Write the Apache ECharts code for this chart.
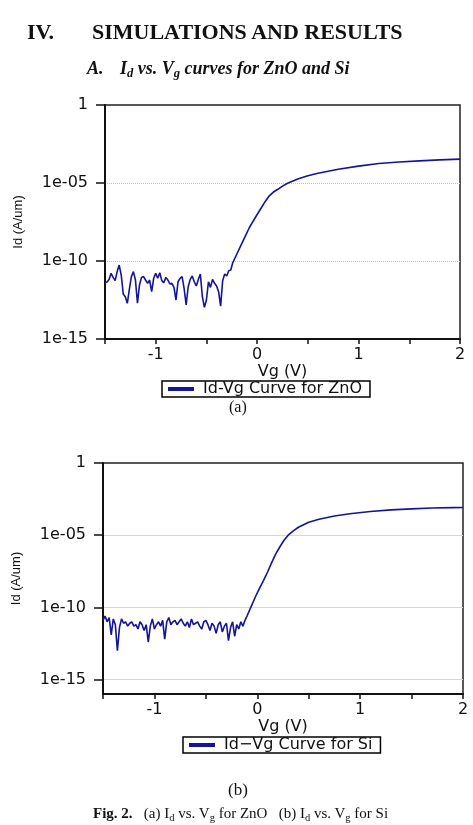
<!DOCTYPE html>
<html>
<head>
<meta charset="utf-8">
<script src="https://cdn.jsdelivr.net/npm/echarts@6/dist/echarts.min.js"></script>
<style>
  html, body { margin: 0; padding: 0; background: #fff; }
  .page { position: relative; width: 473px; height: 825px; overflow: hidden; }
  #chart { position: absolute; left: 0; top: 0; width: 473px; height: 825px; }
  .txt { position: absolute; font-family: "Liberation Serif", "Times New Roman", serif; color: #111; line-height: 1; white-space: nowrap; z-index: 2; }
  .txt sub { font-size: 0.7em; vertical-align: -0.25em; line-height: 0; }
</style>
</head>
<body>
<div class="page">
  <div id="chart"></div>
  <div class="txt" style="left:27px; top:21px; font-size:22px; font-weight:bold;">IV.</div>
  <div class="txt" style="left:92px; top:21px; font-size:22px; font-weight:bold;">SIMULATIONS AND RESULTS</div>
  <div class="txt" style="left:87px; top:59px; font-size:18px; font-weight:bold; font-style:italic;">A.</div>
  <div class="txt" style="left:120px; top:59px; font-size:18px; font-weight:bold; font-style:italic;">I<sub>d</sub> vs. V<sub>g</sub> curves for ZnO and Si</div>
  <div class="txt" style="left:229px; top:399px; font-size:16px;">(a)</div>
  <div class="txt" style="left:228px; top:781px; font-size:17px;">(b)</div>
  <div class="txt" style="left:93px; top:806px; font-size:15px;"><b>Fig. 2.</b>&nbsp;&nbsp; (a) I<sub>d</sub> vs. V<sub>g</sub> for ZnO &nbsp; (b) I<sub>d</sub> vs. V<sub>g</sub> for Si</div>
</div>

<script>
// gate voltage (V) and log10 of drain current (A/um)
const znoVg = [
  -1.5, -1.48, -1.46, -1.44, -1.42, -1.4, -1.38, -1.36, -1.34, -1.32, -1.3, -1.28, -1.26, -1.24, -1.22, -1.2,
  -1.18, -1.16, -1.14, -1.12, -1.1, -1.08, -1.06, -1.04, -1.02, -1, -0.98, -0.96, -0.94, -0.92, -0.9, -0.88,
  -0.86, -0.84, -0.82, -0.8, -0.78, -0.76, -0.74, -0.72, -0.7, -0.68, -0.66, -0.64, -0.62, -0.6, -0.58, -0.56,
  -0.54, -0.52, -0.5, -0.48, -0.46, -0.44, -0.42, -0.4, -0.38, -0.36, -0.34, -0.32, -0.3, -0.28, -0.26,
  -0.24, -0.2, -0.16, -0.12, -0.08, -0.04, 0, 0.04, 0.08, 0.12, 0.16, 0.2, 0.25, 0.3, 0.4, 0.5, 0.6, 0.8,
  1, 1.2, 1.4, 1.6, 1.8, 2
]
const znoLogId = [
  -11.39, -11.35, -11.18, -10.79, -11.05, -11.26, -10.68, -10.26, -10.9, -12.12, -12.29, -12.71, -11.82, -11.0, -10.68, -11.22,
  -12.71, -11.54, -11.05, -11.0, -11.22, -11.43, -11.22, -11.97, -11.11, -10.79, -11.11, -10.75, -11.26, -11.39, -11.05, -11.22,
  -11.47, -11.43, -11.69, -12.5, -11.33, -11.11, -11.0, -11.75, -12.82, -11.65, -11.18, -10.96, -11.33, -11.6, -11.18, -10.83,
  -12.29, -12.97, -12.5, -11.33, -11.69, -11.18, -11.43, -11.6, -11.97, -12.89, -11.26, -10.83, -10.96, -10.62, -10.58,
  -10.1, -9.55, -9.0, -8.45, -7.9, -7.45, -7.02, -6.6, -6.18, -5.82, -5.58, -5.42, -5.2, -5.02, -4.75, -4.53, -4.38, -4.12,
  -3.92, -3.75, -3.65, -3.58, -3.52, -3.47
]

const siVg = [
  -1.5, -1.48, -1.46, -1.44, -1.42, -1.4, -1.38, -1.36, -1.34, -1.32, -1.3, -1.28, -1.26, -1.24, -1.22, -1.2,
  -1.18, -1.16, -1.14, -1.12, -1.1, -1.08, -1.06, -1.04, -1.02, -1, -0.98, -0.96, -0.94, -0.92, -0.9, -0.88,
  -0.86, -0.84, -0.82, -0.8, -0.78, -0.76, -0.74, -0.72, -0.7, -0.68, -0.66, -0.64, -0.62, -0.6, -0.58, -0.56,
  -0.54, -0.52, -0.5, -0.48, -0.46, -0.44, -0.42, -0.4, -0.38, -0.36, -0.34, -0.32, -0.3, -0.28, -0.26, -0.24,
  -0.22, -0.2, -0.18, -0.16, -0.14, -0.12,
  -0.1, -0.06, -0.02, 0.02, 0.06, 0.1, 0.14, 0.18, 0.22, 0.26, 0.3, 0.35, 0.4, 0.5, 0.6, 0.75, 0.9,
  1.1, 1.3, 1.5, 1.7, 1.9, 2
]
const siLogId = [
  -10.9, -10.6, -11.0, -10.7, -11.9, -10.8, -11.2, -13.0, -11.4, -10.8, -11.1, -11.0, -11.3, -11.1, -11.0, -11.3,
  -11.2, -11.5, -11.0, -11.2, -11.6, -11.2, -12.4, -11.3, -10.8, -11.5, -11.2, -11.0, -11.3, -10.9, -12.2, -11.0,
  -10.7, -11.2, -11.0, -10.9, -11.2, -11.0, -10.8, -11.1, -11.3, -11.0, -11.4, -10.8, -11.2, -11.1, -11.0, -11.3,
  -11.5, -11.0, -10.9, -11.2, -11.6, -11.1, -11.3, -11.8, -11.2, -11.0, -11.7, -11.3, -11.1, -12.3, -11.4, -11.0,
  -12.0, -11.2, -11.5, -11.0, -11.3, -10.9,
  -10.6, -9.95, -9.3, -8.7, -8.15, -7.55, -6.9, -6.3, -5.8, -5.35, -5.0, -4.7, -4.45, -4.1, -3.9, -3.67, -3.52,
  -3.36, -3.25, -3.18, -3.12, -3.09, -3.08
]

const xTickLabels = ['-1', '0', '1', '2']
const yTickValues = [1e-15, 1e-10, 1e-5, 1]
const legendNames = ['Id-Vg Curve for ZnO', 'Id\u2212Vg Curve for Si']

const lineColor = '#14149a'
const axisFont = 'DejaVu Sans'

const toPairs = (vg, logId) => vg.map((v, i) => [v, Math.pow(10, logId[i])])

const fmtLog = (v) => {
  const e = Math.round(Math.log10(v))
  if (e === 0) return '1'
  return '1e-' + String(-e).padStart(2, '0')
}

const fmtVg = (v) => {
  const s = String(Math.round(v * 100) / 100)
  return xTickLabels.indexOf(s) >= 0 ? s : ''
}

const makeX = (gridIndex) => ({
  type: 'value',
  gridIndex,
  min: -1.5,
  max: 2,
  interval: 0.5,
  name: 'Vg (V)',
  nameLocation: 'middle',
  nameGap: 24,
  nameTextStyle: { fontFamily: axisFont, fontSize: 16, color: '#111' },
  axisLine: { show: true, onZero: false, lineStyle: { color: '#111', width: 2 } },
  axisTick: { show: true, inside: false, length: 5, lineStyle: { color: '#111', width: 1.5 } },
  axisLabel: { formatter: fmtVg, margin: 8, fontFamily: axisFont, fontSize: 16, color: '#111' },
  splitLine: { show: false }
})

const makeY = (gridIndex, min, splitStyle) => ({
  type: 'log',
  logBase: 10,
  gridIndex,
  min,
  max: 1,
  name: 'Id (A/um)',
  nameLocation: 'middle',
  nameGap: 80,
  nameRotate: 90,
  nameTextStyle: { fontFamily: 'Liberation Sans', fontSize: 13, color: '#111' },
  axisLine: { show: true, onZero: false, lineStyle: { color: '#111', width: 2 } },
  axisTick: { show: true, inside: false, length: 9, customValues: yTickValues, lineStyle: { color: '#111', width: 1.5 } },
  axisLabel: { formatter: fmtLog, customValues: yTickValues, margin: 17, fontFamily: axisFont, fontSize: 16, color: '#111' },
  splitLine: { show: true, showMaxLine: false, lineStyle: splitStyle }
})

const makeLegend = (name, left, top) => ({
  data: [name],
  left,
  top,
  icon: 'rect',
  itemWidth: 26,
  itemHeight: 4,
  itemGap: 0,
  padding: [0, 8, 0, 6],
  borderColor: '#000',
  borderWidth: 1.5,
  borderRadius: 0,
  backgroundColor: '#fff',
  selectedMode: false,
  textStyle: { fontFamily: axisFont, fontSize: 16, color: '#111', lineHeight: 15, padding: [0, 0, 0, 4] }
})

const chart = echarts.init(document.getElementById('chart'), null, { renderer: 'canvas' })

const option = {
  backgroundColor: '#fff',
  animation: false,
  grid: [
    { left: 105, top: 105, right: 13, height: 234, show: true, borderColor: '#222', borderWidth: 1.5, backgroundColor: 'transparent' },
    { left: 103, top: 463, right: 10, height: 231, show: true, borderColor: '#222', borderWidth: 1.5, backgroundColor: 'transparent' }
  ],
  xAxis: [makeX(0), makeX(1)],
  yAxis: [
    makeY(0, 1e-15, { color: '#c4c4c4', width: 1, type: 'dotted' }),
    makeY(1, 1e-16, { color: '#d6d6d6', width: 1, type: 'solid' })
  ],
  legend: [
    makeLegend(legendNames[0], 162, 381),
    makeLegend(legendNames[1], 183, 737)
  ],
  series: [
    {
      name: legendNames[0],
      type: 'line',
      xAxisIndex: 0,
      yAxisIndex: 0,
      showSymbol: false,
      symbol: 'none',
      lineStyle: { color: lineColor, width: 1.6 },
      itemStyle: { color: lineColor },
      data: toPairs(znoVg, znoLogId)
    },
    {
      name: legendNames[1],
      type: 'line',
      xAxisIndex: 1,
      yAxisIndex: 1,
      showSymbol: false,
      symbol: 'none',
      lineStyle: { color: lineColor, width: 1.6 },
      itemStyle: { color: lineColor },
      data: toPairs(siVg, siLogId)
    }
  ]
}

chart.setOption(option)
</script>
</body>
</html>
